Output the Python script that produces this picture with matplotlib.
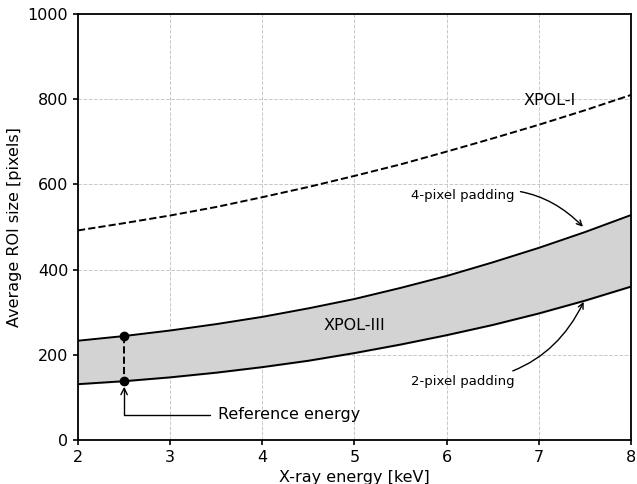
import matplotlib
matplotlib.use("Agg")
import matplotlib.pyplot as plt

# energies [keV]
energy = [2.0, 2.5, 3.0, 3.5, 4.0, 4.5, 5.0, 5.5, 6.0, 6.5, 7.0, 7.5, 8.0]

# average ROI size [pixels]
xpol1 = [492, 509, 527, 547, 570, 594, 620, 647, 677, 708, 740, 774, 810]
xpol3_pad4 = [233, 244, 257, 272, 289, 309, 331, 357, 385, 417, 451, 488, 528]
xpol3_pad2 = [131, 138, 147, 158, 171, 186, 204, 224, 246, 270, 297, 327, 360]

ref_energy = 2.5
ref_sizes = [244, 138]

fig = plt.figure(figsize=(6.37, 4.84), dpi=100)
ax = fig.add_axes([0.1225, 0.091, 0.868, 0.88])

ax.plot(energy, xpol1, color="black", linestyle="--", lw=1.4)
ax.fill_between(energy, xpol3_pad2, xpol3_pad4, color="lightgray")
ax.plot(energy, xpol3_pad4, color="black", lw=1.4)
ax.plot(energy, xpol3_pad2, color="black", lw=1.4)

# reference energy markers
ax.plot([ref_energy, ref_energy], ref_sizes, color="black", linestyle="--",
        marker="o", markersize=6, lw=1.4)

ax.text(6.83, 798, "XPOL-I", fontsize=11.5, ha="left", va="center")
ax.text(5.0, 268, "XPOL-III", fontsize=11.5, ha="center", va="center")

ax.annotate("4-pixel padding", xy=(7.5, 496), xytext=(6.18, 575),
            fontsize=9.5, ha="center", va="center",
            arrowprops=dict(arrowstyle="->", color="black", lw=1,
                            connectionstyle="arc3,rad=-0.3"))
ax.annotate("2-pixel padding", xy=(7.5, 330), xytext=(6.18, 138),
            fontsize=9.5, ha="center", va="center",
            arrowprops=dict(arrowstyle="->", color="black", lw=1,
                            connectionstyle="arc3,rad=0.3"))
ax.annotate("Reference energy", xy=(2.5, 125), xytext=(3.52, 59),
            fontsize=11.5, ha="left", va="center",
            arrowprops=dict(arrowstyle="->", color="black", lw=1,
                            shrinkA=4, shrinkB=0,
                            connectionstyle="angle,angleA=0,angleB=90,rad=0"))

ax.set_xlim(2, 8)
ax.set_ylim(0, 1000)
ax.set_xticks([2, 3, 4, 5, 6, 7, 8])
ax.set_yticks([0, 200, 400, 600, 800, 1000])
ax.tick_params(labelsize=11.5, width=1.2)
for s in ax.spines.values():
    s.set_linewidth(1.3)
ax.set_xlabel("X-ray energy [keV]", fontsize=11.5)
ax.set_ylabel("Average ROI size [pixels]", fontsize=11.5)
ax.grid(True, linestyle="--", color="#c8c8c8", lw=0.7)
ax.set_axisbelow(True)

fig.savefig("out.png", dpi=100)
